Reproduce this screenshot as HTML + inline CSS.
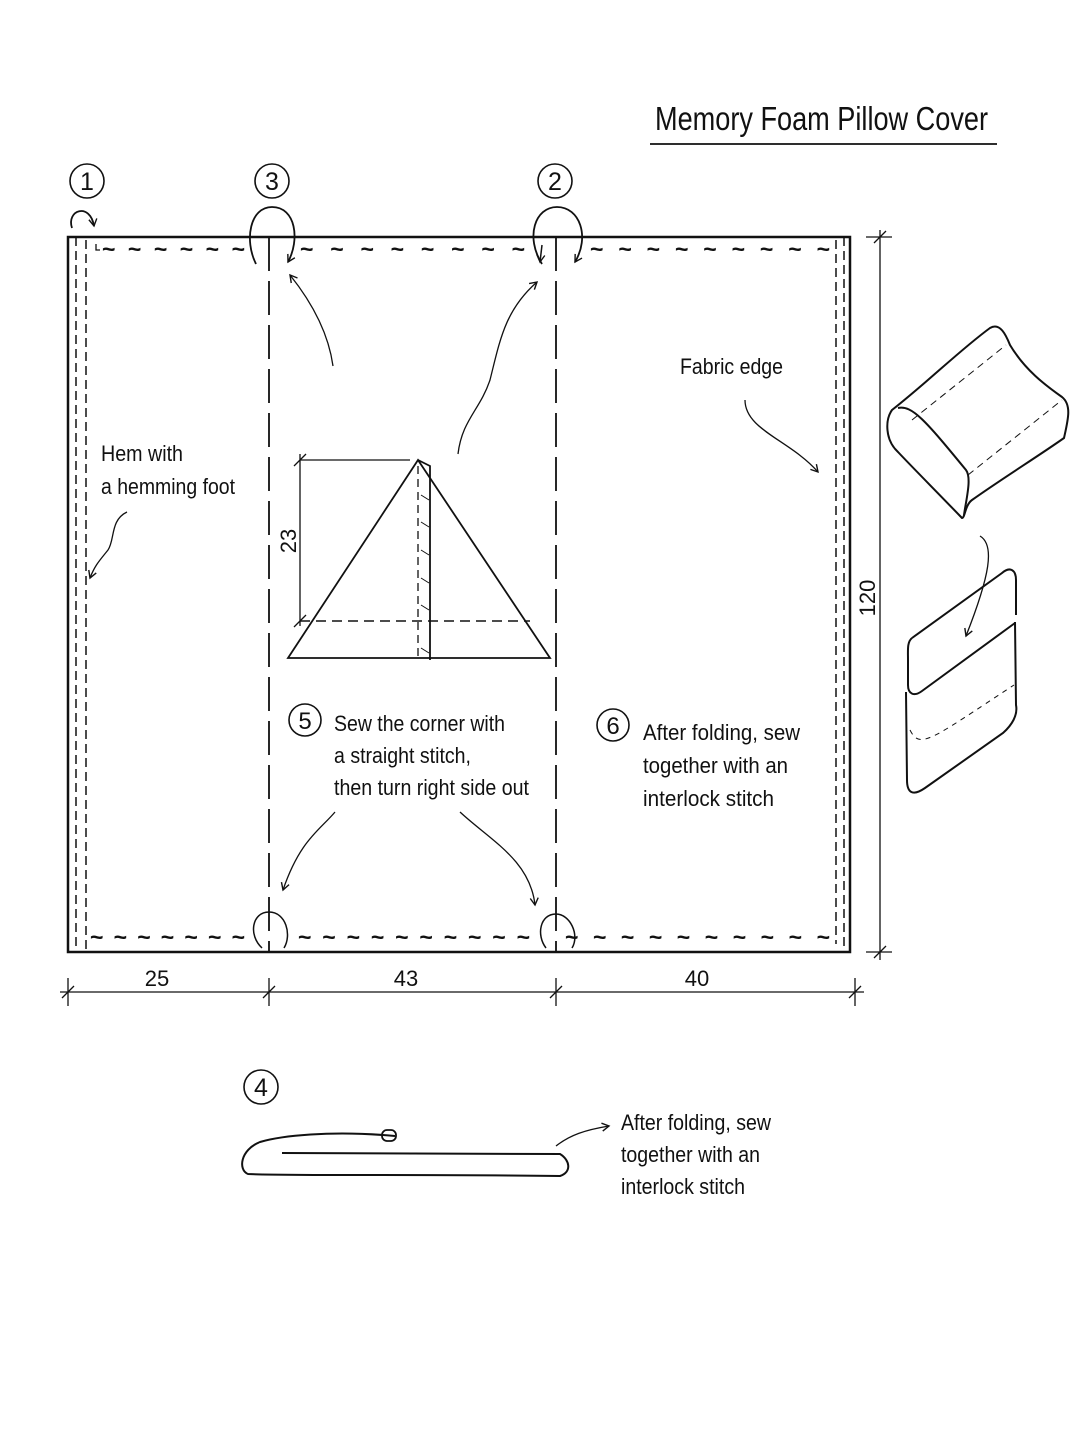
<!DOCTYPE html>
<html><head><meta charset="utf-8"><style>
html,body{margin:0;padding:0;background:#fff;}
svg{display:block;}
text{font-family:"Liberation Sans Narrow","Liberation Sans",sans-serif;fill:#111;}
</style></head><body>
<svg width="1086" height="1448" viewBox="0 0 1086 1448" xmlns="http://www.w3.org/2000/svg">
<defs>
<marker id="ah" markerWidth="10" markerHeight="10" refX="8" refY="5" orient="auto" markerUnits="userSpaceOnUse"><path d="M1,1 L8,5 L1,9" fill="none" stroke="#111" stroke-width="1.4"/></marker>
</defs>
<g fill="none" stroke="#111">
<line x1="650" y1="144" x2="997" y2="144" stroke-width="1.8"/>
<rect x="68" y="237" width="782" height="715" stroke-width="2.5"/>
<line x1="76" y1="237" x2="76" y2="952" stroke-width="1.5" stroke-dasharray="9,5"/>
<line x1="86" y1="240" x2="86" y2="952" stroke-width="1.5" stroke-dasharray="9,5"/>
<line x1="836" y1="240" x2="836" y2="944" stroke-width="1.5" stroke-dasharray="9,5"/>
<line x1="844" y1="237" x2="844" y2="952" stroke-width="1.5" stroke-dasharray="9,5"/>
<path d="M96,244 V250 H100" stroke-width="1.3"/>
<line x1="269" y1="237" x2="269" y2="952" stroke-width="1.8" stroke-dasharray="34,10"/>
<line x1="556" y1="237" x2="556" y2="952" stroke-width="1.8" stroke-dasharray="34,10"/>
<path d="M256,264 C244,240 250,207 272,207 C296,207 300,240 288,262" stroke-width="1.8" marker-end="url(#ah)"/>
<path d="M542,264 C525,237 535,207 557,207 C580,207 590,237 575,262" stroke-width="1.8" marker-end="url(#ah)"/>
<path d="M542,245 L540,262" stroke-width="1.5" marker-end="url(#ah)"/>
<path d="M72,228 C66,210 90,202 94,226" stroke-width="1.8" marker-end="url(#ah)"/>
<path d="M262,948 C248,935 252,912 269,912 C286,912 292,935 284,948" stroke-width="1.5"/>
<path d="M546,948 C536,935 540,914 556,914 C570,914 580,935 572,948" stroke-width="1.5"/>
<line x1="60" y1="992" x2="864" y2="992" stroke-width="1.3"/>
<path d="M68,978 V1006 M269,978 V1006 M556,978 V1006 M855,978 V1006" stroke-width="1.3"/>
<path d="M62,998 L74,986 M263,998 L275,986 M550,998 L562,986 M849,998 L861,986" stroke-width="1.3"/>
<line x1="880" y1="230" x2="880" y2="960" stroke-width="1.3"/>
<path d="M866,237 H892 M866,952 H892 M874,243 L886,231 M874,958 L886,946" stroke-width="1.3"/>
<path d="M288,658 L418,460 L550,658 Z" stroke-width="1.8"/>
<path d="M418,460 L430,466 L430,660" stroke-width="1.8"/>
<line x1="418" y1="466" x2="418" y2="658" stroke-width="1.3" stroke-dasharray="8,5"/>
<line x1="300" y1="621" x2="530" y2="621" stroke-width="1.5" stroke-dasharray="10,6"/>
<path d="M300,460 H410 M300,454 V626" stroke-width="1.3"/>
<path d="M294,466 L306,454 M294,627 L306,615" stroke-width="1.3"/>
<path d="M421,495 L429,500 M421,522 L429,527 M421,550 L429,555 M421,578 L429,583 M421,605 L429,610 M421,648 L429,653" stroke-width="1"/>
<path d="M333,366 C328,330 310,300 290,275" stroke-width="1.3" marker-end="url(#ah)"/>
<path d="M458,454 C462,420 480,410 490,380 C500,340 505,310 537,282" stroke-width="1.3" marker-end="url(#ah)"/>
<path d="M745,400 C745,430 790,440 818,472" stroke-width="1.3" marker-end="url(#ah)"/>
<path d="M127,512 C110,520 115,540 108,550 C100,560 95,565 90,578" stroke-width="1.3" marker-end="url(#ah)"/>
<path d="M335,812 C320,830 300,840 283,890" stroke-width="1.3" marker-end="url(#ah)"/>
<path d="M460,812 C490,840 530,860 535,905" stroke-width="1.3" marker-end="url(#ah)"/>
<circle cx="87" cy="181" r="17" stroke-width="1.6"/>
<circle cx="272" cy="181" r="17" stroke-width="1.6"/>
<circle cx="555" cy="181" r="17" stroke-width="1.6"/>
<circle cx="305" cy="720" r="16" stroke-width="1.6"/>
<circle cx="613" cy="725" r="16" stroke-width="1.6"/>
<circle cx="261" cy="1087" r="17" stroke-width="1.6"/>
<path d="M892,410 C930,380 960,350 990,328 C1000,322 1006,335 1010,345 C1025,370 1045,385 1062,397 C1072,405 1068,420 1064,438 C1040,455 1000,480 972,500 C965,505 965,518 962,518 C935,490 915,470 898,452 C885,440 885,420 892,410 Z" stroke-width="2"/>
<path d="M898,408 C912,405 925,420 966,470 C972,478 966,500 964,515" stroke-width="2"/>
<path d="M912,420 L1006,345 M968,475 L1062,400" stroke-width="1" stroke-dasharray="7,5"/>
<path d="M912,638 L1002,573 C1010,566 1016,570 1016,580 L1016,615" stroke-width="2"/>
<path d="M912,638 C907,642 908,650 908,660 L908,685 C908,694 914,697 922,691 L1015,623" stroke-width="2"/>
<path d="M1015,622 L1016,705 C1018,715 1012,725 1003,733 L925,788 C912,797 907,792 907,780 L906,692" stroke-width="2"/>
<path d="M910,730 C920,750 930,740 1014,685" stroke-width="1" stroke-dasharray="5,5"/>
<path d="M980,536 C995,545 990,575 966,636" stroke-width="1.3" marker-end="url(#ah)"/>
<path d="M395,1136 C330,1130 280,1136 260,1142 C240,1150 238,1170 248,1174 C300,1176 420,1174 560,1176 C572,1172 570,1160 560,1154 L282,1153" stroke-width="2"/>
<rect x="382" y="1130" width="14" height="11" rx="5" stroke-width="1.8"/>
<path d="M556,1146 C570,1135 585,1130 609,1126" stroke-width="1.3" marker-end="url(#ah)"/>
</g>
<g font-size="22">
<text x="655" y="130" font-size="33" textLength="333" lengthAdjust="spacingAndGlyphs">Memory Foam Pillow Cover</text>
<text x="87" y="190" font-size="25" text-anchor="middle">1</text>
<text x="272" y="190" font-size="25" text-anchor="middle">3</text>
<text x="555" y="190" font-size="25" text-anchor="middle">2</text>
<text x="305" y="729" font-size="24" text-anchor="middle">5</text>
<text x="613" y="734" font-size="24" text-anchor="middle">6</text>
<text x="261" y="1096" font-size="25" text-anchor="middle">4</text>
<text x="680" y="374" textLength="103" lengthAdjust="spacingAndGlyphs">Fabric edge</text>
<text x="101" y="461" textLength="82" lengthAdjust="spacingAndGlyphs">Hem with</text>
<text x="101" y="494" textLength="134" lengthAdjust="spacingAndGlyphs">a hemming foot</text>
<text x="334" y="731" textLength="171" lengthAdjust="spacingAndGlyphs">Sew the corner with</text>
<text x="334" y="763" textLength="137" lengthAdjust="spacingAndGlyphs">a straight stitch,</text>
<text x="334" y="795" textLength="195" lengthAdjust="spacingAndGlyphs">then turn right side out</text>
<text x="643" y="740" textLength="157" lengthAdjust="spacingAndGlyphs">After folding, sew</text>
<text x="643" y="773" textLength="145" lengthAdjust="spacingAndGlyphs">together with an</text>
<text x="643" y="806" textLength="131" lengthAdjust="spacingAndGlyphs">interlock stitch</text>
<text x="621" y="1130" textLength="150" lengthAdjust="spacingAndGlyphs">After folding, sew</text>
<text x="621" y="1162" textLength="139" lengthAdjust="spacingAndGlyphs">together with an</text>
<text x="621" y="1194" textLength="124" lengthAdjust="spacingAndGlyphs">interlock stitch</text>
<text x="157" y="986" text-anchor="middle">25</text>
<text x="406" y="986" text-anchor="middle">43</text>
<text x="697" y="986" text-anchor="middle">40</text>
<text transform="translate(875,598) rotate(-90)" text-anchor="middle">120</text>
<text transform="translate(296,541) rotate(-90)" text-anchor="middle">23</text>
</g>
<g font-size="23" font-family="Liberation Sans" font-weight="bold">
<text x="102" y="257" textLength="143" lengthAdjust="spacing">~ ~ ~ ~ ~ ~</text>
<text x="300" y="257" textLength="225" lengthAdjust="spacing">~ ~ ~ ~ ~ ~ ~ ~</text>
<text x="590" y="257" textLength="240" lengthAdjust="spacing">~ ~ ~ ~ ~ ~ ~ ~ ~</text>
<text x="90" y="945" textLength="155" lengthAdjust="spacing">~ ~ ~ ~ ~ ~ ~</text>
<text x="298" y="945" textLength="232" lengthAdjust="spacing">~ ~ ~ ~ ~ ~ ~ ~ ~ ~</text>
<text x="565" y="945" textLength="265" lengthAdjust="spacing">~ ~ ~ ~ ~ ~ ~ ~ ~ ~</text>
</g>
</svg>
</body></html>
